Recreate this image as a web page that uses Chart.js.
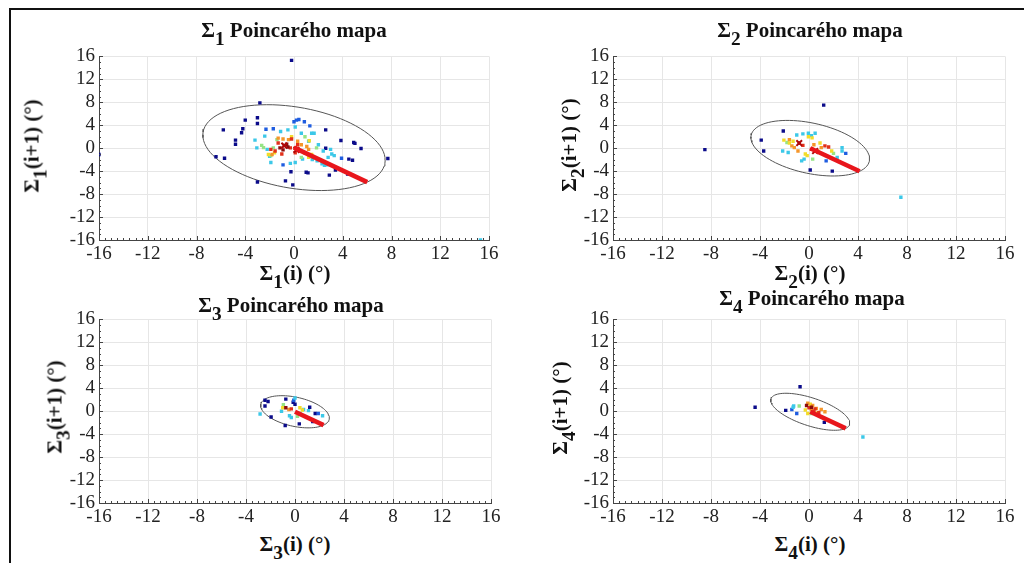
<!DOCTYPE html>
<html>
<head>
<meta charset="utf-8">
<script src="https://cdn.jsdelivr.net/npm/chart.js@4.4.1/dist/chart.umd.min.js"></script>
<style>
  html, body { margin:0; padding:0; background:#fff; }
  #page { position:relative; width:1024px; height:563px; overflow:hidden; background:#fff; }
  #frame { position:absolute; left:9px; top:8px; right:0; bottom:0; border-top:2px solid #111; border-left:2px solid #111; }
  canvas { position:absolute; }
  .txt { position:absolute; font-family:"Liberation Serif","Times New Roman",serif; font-weight:bold; color:#111; white-space:nowrap; line-height:21px; }
  .title, .xlab { font-size:21px; transform:translateX(-50%); }
  .ylab { font-size:21px; transform:translate(-50%,-50%) rotate(-90deg); }
  .txt sub { font-size:0.92em; vertical-align:-0.42em; line-height:0; }
</style>
</head>
<body>
<div id="page">
  <div id="frame"></div>
  <canvas id="c1" width="470" height="225" style="left:40px;top:41px"></canvas>
  <canvas id="c2" width="462" height="225" style="left:560px;top:41px"></canvas>
  <canvas id="c3" width="470" height="225" style="left:40px;top:304px"></canvas>
  <canvas id="c4" width="462" height="225" style="left:560px;top:304px"></canvas>

  <div class="txt title" style="left:294px;top:20px">&Sigma;<sub>1</sub> Poincarého mapa</div>
  <div class="txt title" style="left:810px;top:20px">&Sigma;<sub>2</sub> Poincarého mapa</div>
  <div class="txt title" style="left:291px;top:295px">&Sigma;<sub>3</sub> Poincarého mapa</div>
  <div class="txt title" style="left:812px;top:288px">&Sigma;<sub>4</sub> Poincarého mapa</div>

  <div class="txt xlab" style="left:295px;top:263px">&Sigma;<sub>1</sub>(i) (°)</div>
  <div class="txt xlab" style="left:810px;top:263px">&Sigma;<sub>2</sub>(i) (°)</div>
  <div class="txt xlab" style="left:295px;top:534px">&Sigma;<sub>3</sub>(i) (°)</div>
  <div class="txt xlab" style="left:810px;top:534px">&Sigma;<sub>4</sub>(i) (°)</div>

  <div class="txt ylab" style="left:32px;top:146px">&Sigma;<sub>1</sub>(i+1) (°)</div>
  <div class="txt ylab" style="left:569px;top:145px">&Sigma;<sub>2</sub>(i+1) (°)</div>
  <div class="txt ylab" style="left:55px;top:407px">&Sigma;<sub>3</sub>(i+1) (°)</div>
  <div class="txt ylab" style="left:560px;top:408px">&Sigma;<sub>4</sub>(i+1) (°)</div>
</div>

<script>
// axis range and ticks shared by all four maps
const axisMin = -16;
const axisMax = 16;
const tickStep = 4;

// colour levels (point density, low -> high)
const levelNames = ["navy", "blue", "cyan", "green", "yellow", "orange", "red", "darkred"];
const levelColors = ["#0b0b8a", "#1f5de0", "#3cc8e8", "#96e486", "#f2dc2a", "#f5962a", "#e2301a", "#8c0c0c"];

// Σ1 : [x(i), x(i+1)]
const s1Navy = [[-0.2,15.3],[-2.8,7.9],[-4.0,4.9],[-3.0,5.3],[-3.0,4.3],[-5.8,3.2],[-4.2,3.4],[-4.3,2.7],[-4.8,1.4],[-4.8,0.7],[-6.4,-1.5],[-5.7,-1.75],[-3.0,-5.9],[-0.7,-5.7],[-0.1,-6.4],[-0.25,-4.1],[1.0,-4.2],[1.15,-4.3],[2.9,-4.7],[2.6,3.2],[3.85,1.35],[4.9,1.0],[5.0,0.85],[5.5,-0.05],[4.5,-1.9],[4.8,-2.1],[4.4,-4.5],[7.7,-1.8],[-16,-1.1],[3.4,-3.8],[2.6,0.0]];
const s1Blue = [[0.2,4.9],[0.4,5.0],[0.0,4.6],[1.3,3.9],[0.85,4.6],[-2.3,3.3],[-1.7,3.4],[-0.9,-2.9],[3.9,-1.75]];
const s1Cyan = [[-3.2,1.4],[-3.05,0.05],[-2.4,2.1],[-1.1,2.9],[-0.5,3.2],[0.1,3.7],[0.6,2.6],[1.45,2.6],[1.65,2.6],[1.2,1.2],[2.0,0.6],[2.4,-0.5],[3.0,-0.2],[3.1,-1.0],[2.8,-1.6],[2.3,-2.7],[2.5,-3.0],[1.9,-2.2],[0.1,-2.5],[-0.3,-2.65],[0.7,-1.9],[-1.9,-2.5],[-2.0,-1.4],[-2.2,-0.2],[15.3,-16],[2.7,-2.9],[1.5,-2.0],[3.3,-1.3]];
const s1Green = [[-2.65,0.5],[-2.5,0.1],[-1.7,0.05],[-1.4,1.5],[0.9,2.0],[0.6,-1.6],[1.85,0.05],[-1.9,-1.3]];
const s1Yellow = [[-2.1,-1.1],[1.25,1.3],[1.45,-1.1],[1.2,-1.6],[-1.6,-0.8],[0.9,-0.9],[-0.2,2.0]];
const s1Orange = [[-1.3,1.75],[-0.9,1.6],[0.6,0.6],[1.05,0.3],[1.2,-0.2],[-1.8,-1.1],[-0.45,1.5],[0.3,1.2]];
const s1Red = [[-0.2,1.6],[-1.9,-0.2],[-1.55,-0.5],[-0.3,0.05],[0.1,0.05],[0.5,-0.5],[0.1,-0.8],[-1.0,-1.0],[-1.3,0.9],[0.3,0.6]];
const s1DarkRed = [[-1.15,0.05],[-0.8,0.5],[-0.6,0.7],[-0.5,0.2],[-0.9,-0.3]];

// Σ2
const s2Navy = [[1.2,7.5],[-2.1,3.0],[-3.9,1.4],[-3.7,-0.5],[0.1,-3.8],[1.9,-4.0],[-8.5,-0.25]];
const s2Blue = [[3.0,-0.9],[1.4,-2.2]];
const s2Cyan = [[-2.15,-0.5],[-1.7,-0.75],[-1.0,2.3],[-0.5,2.5],[-0.05,2.6],[0.5,2.6],[-0.6,-2.2],[-0.4,-1.9],[2.7,0.1],[2.7,-0.5],[2.3,-1.6],[7.5,-8.55],[0.2,2.2]];
const s2Green = [[-1.8,1.0],[0.3,-1.9],[2.0,-0.9]];
const s2Yellow = [[-2.05,1.4],[-1.3,1.2],[-0.05,2.0],[0.25,1.8],[-0.3,-1.0],[-0.15,-1.3],[0.9,0.9],[1.85,-0.5],[-1.6,0.9]];
const s2Orange = [[-1.6,1.5],[-1.4,0.4],[1.0,0.1],[0.7,-0.5],[-0.9,-0.5],[-1.2,0.1],[0.4,0.6]];
const s2Red = [[-0.5,0.5],[1.3,0.4],[1.6,0.2],[0.2,-0.2]];
const s2DarkRed = [[-0.8,0.9],[0.5,-0.5]];

// Σ3
const s3Navy = [[-2.45,1.9],[-2.2,1.7],[-2.45,0.9],[-1.95,-1.0],[-0.8,-2.5],[0.35,-2.2],[-0.75,2.1],[-0.15,1.55],[0.0,1.2],[1.2,0.7],[1.65,-0.4],[1.45,-1.8]];
const s3Blue = [[1.9,-0.4],[-0.1,1.9]];
const s3Cyan = [[-2.85,-0.5],[-0.45,-0.8],[-0.3,-1.1],[0.7,0.3],[2.25,-0.8],[0.4,-0.4],[0.0,2.3],[-1.1,0.0],[1.1,0.1]];
const s3Green = [[-0.95,1.15],[0.2,-0.9]];
const s3Yellow = [[-1.0,0.6],[0.4,0.6],[0.6,0.2]];
const s3Orange = [[-0.5,0.3]];
const s3Red = [[-0.3,0.4]];
const s3DarkRed = [[-0.75,0.6]];

// Σ4
const s4Navy = [[-0.73,4.27],[-4.4,0.7],[-1.9,0.15],[1.25,-1.95]];
const s4Blue = [[-1.0,-0.4],[-1.4,0.3]];
const s4Cyan = [[4.4,-4.5],[-1.3,0.7],[-1.25,0.9]];
const s4Green = [[-0.8,0.9],[0.2,-0.4]];
const s4Yellow = [[-0.3,0.2],[0.1,1.2],[0.7,-0.3],[-0.1,-0.4]];
const s4Orange = [[-0.1,1.4],[0.3,1.0],[0.6,0.5],[1.0,0.3],[0.2,0.3],[1.3,-0.1]];
const s4Red = [[0.0,0.6],[0.4,0.0],[0.8,-0.2],[0.5,0.4]];
const s4DarkRed = [[-0.2,1.0],[0.2,0.7]];

// ellipse: centre, SD2 (along y=-x) and SD1 (along y=x)
const ellCx = [0.0, 0.1, 0.0, 0.1];
const ellCy = [0.1, 0.0, -0.1, -0.1];
const ellSD2 = [8.5, 5.7, 3.3, 4.1];
const ellSD1 = [6.3, 3.8, 2.2, 2.0];

// centroid crosses
const crosses = [[[-0.8,0.45],[0.2,-0.3]], [[-0.8,0.9],[0.5,-0.5]], [], []];

const groups = [
  [s1Navy, s1Blue, s1Cyan, s1Green, s1Yellow, s1Orange, s1Red, s1DarkRed],
  [s2Navy, s2Blue, s2Cyan, s2Green, s2Yellow, s2Orange, s2Red, s2DarkRed],
  [s3Navy, s3Blue, s3Cyan, s3Green, s3Yellow, s3Orange, s3Red, s3DarkRed],
  [s4Navy, s4Blue, s4Cyan, s4Green, s4Yellow, s4Orange, s4Red, s4DarkRed]
];

// canvas layout: y axis box width, padding right
const yBox = [59, 53, 59, 53];
const padRight = [21, 17, 19, 17];

const toXY = arr => arr.map(p => ({x:p[0], y:p[1]}));

function ellipsePts(cx, cy, a, b){
  const pts = [];
  for(let k=0;k<=90;k++){
    const t = k/90*2*Math.PI;
    const u = a*Math.cos(t), w = b*Math.sin(t);
    pts.push({x: cx + (u+w)/Math.SQRT2, y: cy + (w-u)/Math.SQRT2});
  }
  return pts;
}

// small inward ticks on left and bottom axes
const minorTicks = {
  id:"minorTicks",
  afterDatasetsDraw(chart){
    const {ctx, chartArea:a, scales:{x, y}} = chart;
    ctx.save();
    ctx.strokeStyle = "#444";
    ctx.lineWidth = 1;
    ctx.beginPath();
    for(let v=axisMin; v<=axisMax; v+=0.5){
      const px = Math.round(x.getPixelForValue(v)) + 0.5;
      const len = v % tickStep === 0 ? 4 : 2;
      ctx.moveTo(px, a.bottom); ctx.lineTo(px, a.bottom - len);
    }
    for(let v=axisMin; v<=axisMax; v+=1){
      const py = Math.round(y.getPixelForValue(v)) + 0.5;
      const len = v % tickStep === 0 ? 4 : 2;
      ctx.moveTo(a.left, py); ctx.lineTo(a.left + len, py);
    }
    ctx.stroke();
    ctx.restore();
  }
};

function axis(isY, i){
  return {
    type:"linear", min:axisMin, max:axisMax,
    ticks:{
      stepSize:tickStep, autoSkip:false, maxRotation:0,
      color:"#222", padding:isY ? 4 : 3,
      font:{family:"Liberation Serif", size:19}
    },
    grid:{color:"#e6e6e6", lineWidth:1, drawTicks:false},
    border:{color:"#444", width:1},
    afterFit: isY ? (s => { s.width = yBox[i]; }) : (s => { s.height = 26; })
  };
}

for(let i=0;i<4;i++){
  const datasets = [];
  const cx = ellCx[i], cy = ellCy[i];
  datasets.push({
    data:[{x:cx, y:cy}, {x:cx + ellSD2[i]/Math.SQRT2, y:cy - ellSD2[i]/Math.SQRT2}],
    showLine:true, borderColor:"#e8161c", borderWidth:4.5, pointRadius:0
  });
  if(crosses[i].length){
    datasets.push({
      data:toXY(crosses[i]), pointStyle:"crossRot", pointRadius:4,
      borderColor:"#b00808", borderWidth:2
    });
  }
  for(let k=levelNames.length-1;k>=0;k--){
    datasets.push({
      label:levelNames[k], data:toXY(groups[i][k]),
      pointStyle:"rect", pointRadius:2.4,
      backgroundColor:levelColors[k], borderColor:levelColors[k], borderWidth:0
    });
  }
  datasets.push({
    data:ellipsePts(cx, cy, ellSD2[i], ellSD1[i]),
    showLine:true, borderColor:"#555", borderWidth:1, pointRadius:0, tension:0
  });

  new Chart(document.getElementById("c"+(i+1)), {
    type:"scatter",
    data:{datasets},
    options:{
      responsive:false, animation:false,
      layout:{padding:{top:10, right:padRight[i], left:0, bottom:0}},
      plugins:{legend:{display:false}, tooltip:{enabled:false}},
      scales:{x:axis(false, i), y:axis(true, i)}
    },
    plugins:[minorTicks]
  });
}
</script>
</body>
</html>
